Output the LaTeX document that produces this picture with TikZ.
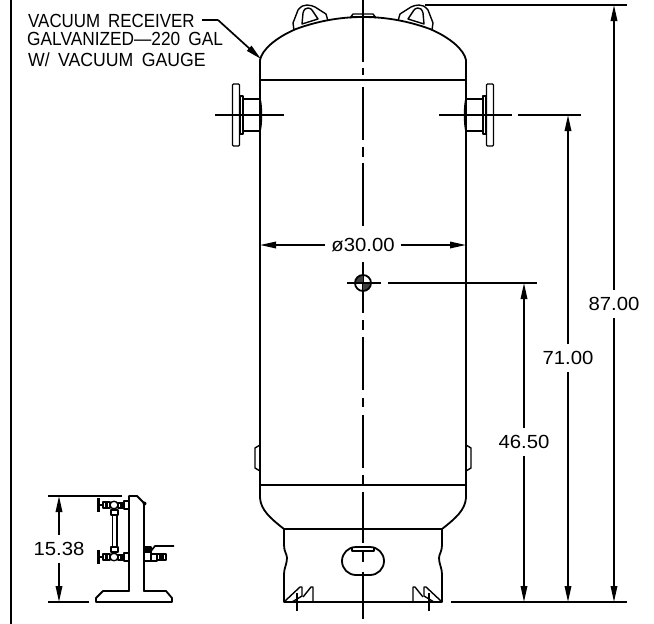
\documentclass[tikz,border=0pt]{standalone}
\usepackage{fontspec}
\setmainfont{Liberation Sans}
\usetikzlibrary{arrows.meta}
\tikzset{
  x=1pt,y=-1pt,
  obj/.style={draw=black,line width=1.8pt,line join=round,line cap=round},
  thin obj/.style={draw=black,line width=1.4pt,line join=round},
  cl/.style={draw=black,line width=1.9pt},
  dimline/.style={draw=black,line width=1.7pt},
  tip/.style={-{Triangle[length=16pt,width=6.5pt,sep=0pt]}},
  dimtext/.style={font=\fontsize{19}{19}\selectfont,inner xsep=6pt,inner ysep=7pt},
  note/.style={font=\fontsize{19}{19}\selectfont,inner sep=0pt,anchor=base west},
}
\newcommand{\wide}[1]{\scalebox{1.07}[1]{#1}}
\newcommand{\cond}[2]{\scalebox{#1}[1]{#2}}
\begin{document}
\begin{tikzpicture}
\useasboundingbox[fill=white] (0,0) rectangle (654,624);
% frame bar
\draw[line width=2pt] (11,0) -- (11,624);

% vessel
\draw[obj] (260,485) -- (260,68) -- (260,60) .. controls (262,50) and (275,38) .. (296,29)
  .. controls (318,21) and (340,17) .. (363,17) .. controls (386,17) and (408,21) .. (430,29)
  .. controls (451,38) and (464,50) .. (466,60) -- (466,68) -- (466,485);
\draw[obj] (260,80) -- (466,80);
\draw[obj] (260,485) -- (466,485);
\draw[obj] (260,485) -- (260,498) .. controls (261,510) and (270,518) .. (284,529) -- (442,529)
  .. controls (456,518) and (465,510) .. (466,498) -- (466,485);
% skirt
\draw[obj] (284,529) -- (284,545) .. controls (284,552) and (287,554) .. (287,558)
  .. controls (287,564) and (284,568) .. (284,574) -- (284,602) -- (442,602) -- (442,574)
  .. controls (442,568) and (439,564) .. (439,558) .. controls (439,554) and (442,552) .. (442,545) -- (442,529);
% opening
\draw[obj] (356,547) -- (370,547) arc[start angle=-90,end angle=90,radius=14] -- (356,575) arc[start angle=90,end angle=270,radius=14] -- cycle;
\draw[thin obj] (352,547) -- (352,551) -- (374,551) -- (374,547);
% feet
\foreach \m in {1,-1}{
  \begin{scope}[xshift={(\m==1 ? 0 : 726)*1pt},xscale=\m]
    \draw[thin obj] (285,601) -- (300,587) -- (302,587) -- (302,596) -- (292,602);
    \draw[thin obj] (303,597) -- (311,587) -- (313,587) -- (313,602);
    \draw[thin obj] (297,593) -- (297,611);
    % pad
    \draw[thin obj] (260,445) -- (255,448) -- (255,468) -- (260,471);
    % lug
    \draw[thin obj] (294,30) -- (293,23) -- (298,10) .. controls (301,6) and (304,5) .. (307,5) .. controls (310,5) and (313,6) .. (315,7)
      -- (326,14) -- (328,21);
    \draw[thin obj] (302,24) -- (303,13) .. controls (304,9) and (306,8) .. (308,8) .. controls (310,8) and (311,9) .. (312,10) -- (318,19) -- cycle;
    % nozzle
    \draw[thin obj] (260,99) .. controls (262,105) and (262,125) .. (260,131);
    \draw[thin obj] (260,99) -- (243,99) -- (243,131) -- (260,131);
    \draw[thin obj] (243,96) -- (240,96) -- (240,134) -- (243,134) -- cycle;
    \draw[thin obj,rounded corners=1pt] (232.5,84) rectangle (239.5,146);
  \end{scope}
}
% top fitting
\draw[thin obj] (350,18) -- (353,14) -- (373,14) -- (376,18);
\draw[thin obj] (352,17) -- (374,17);

% centre line
\foreach \a/\b in {0/62,68/75,87/140,147/157,163/226,262/313,320/330,337/390,398/407,415/468,475/484,492/543,552/562,572/619}{
  \draw[cl] (363,\a) -- (363,\b);
}
% port
\fill[black!75] (363,283) -- (355,283) arc[start angle=180,end angle=270,radius=8] -- cycle;
\fill[black!75] (363,283) -- (371,283) arc[start angle=0,end angle=90,radius=8] -- cycle;
\draw[obj] (363,283) circle[radius=8];
\draw[cl] (347,283) -- (381,283);

% centre marks of nozzles and extension lines
\draw[dimline] (215,115) -- (284,115);
\draw[dimline] (439,115) -- (512,115);
\draw[dimline] (518,115) -- (581,115);
\draw[dimline] (388,283) -- (537,283);
\draw[dimline] (425,5) -- (627,5);
\draw[dimline] (451,602) -- (627,602);

% dimensions
\coordinate (top87) at (614,5);
\coordinate (top71) at (568,115);
\coordinate (top46) at (524,283);
\coordinate (bot87) at (614,602);
\coordinate (bot71) at (568,602);
\coordinate (bot46) at (524,602);
\node[dimtext] (t87) at (614,304) {\wide{87.00}};
\node[dimtext] (t71) at (568,358) {\wide{71.00}};
\node[dimtext] (t46) at (524,442) {\wide{46.50}};
\node[dimtext] (t30) at (363,245) {\wide{ø30.00}};
\node[dimtext] (t15) at (59,549) {\wide{15.38}};
\draw[dimline,tip] (t87.north) -- (top87);
\draw[dimline,tip] (t87.south) -- (bot87);
\draw[dimline,tip] (t71.north) -- (top71);
\draw[dimline,tip] (t71.south) -- (bot71);
\draw[dimline,tip] (t46.north) -- (top46);
\draw[dimline,tip] (t46.south) -- (bot46);
\coordinate (d30l) at (260,245);
\coordinate (d30r) at (466,245);
\draw[dimline,tip] (t30.west) -- (d30l);
\draw[dimline,tip] (t30.east) -- (d30r);

% note
\node[note] (n1) at (28,27) {\cond{0.89}{VACUUM\hspace{9pt}RECEIVER}};
\node[note] (n2) at (27,45) {\cond{0.91}{GALVANIZED—220\hspace{9pt}GAL}};
\node[note] (n3) at (28,66) {\cond{0.93}{W/\hspace{9pt}VACUUM\hspace{9pt}GAUGE}};
\coordinate (lead) at (218,20);
\coordinate (leadtip) at (261,59);
\draw[dimline] (202,20) -- (lead);
\draw[dimline,tip] (lead) -- (leadtip);

% gauge glass detail
\draw[dimline] (48,496) -- (122,496);
\draw[dimline] (48,602) -- (89,602);
\coordinate (top15) at (59,496);
\coordinate (bot15) at (59,602);
\draw[dimline,tip] (t15.north) -- (top15);
\draw[dimline,tip] (t15.south) -- (bot15);
\draw[obj] (129,591) -- (129,496) -- (137,496) -- (144,503) -- (144,591);
\fill (144.5,503.5) circle[radius=2];
\draw[obj] (129,591) -- (103,591) -- (96,598) -- (96,602) -- (172,602) -- (172,598) -- (166,591) -- (144,591);
\foreach \dy in {0,52}{
  \begin{scope}[yshift={-\dy*1pt}]
    \draw[line width=2.4pt] (98.5,498) -- (98.5,512);
    \draw[thin obj] (99,505) -- (104,505);
    \draw[thin obj,fill=white] (103,502) rectangle (110,508);
    \fill (105,503) rectangle (108,507);
    \draw[thin obj,fill=white] (110,505) .. controls (110,500) and (118,500) .. (118,505) .. controls (118,510) and (110,510) .. (110,505);
    \draw[thin obj,fill=white] (118,503) rectangle (123,508);
    \fill (120,503) rectangle (124,508);
    \draw[thin obj,fill=white] (124,501) rectangle (129,509);
  \end{scope}
}
\draw[thin obj] (111,510) rectangle (118,515);
\draw[thin obj] (112.5,515) -- (112.5,547);
\draw[thin obj] (117,515) -- (117,547);
\draw[thin obj] (111,547) rectangle (118,552);
% ball valve
\draw[thin obj] (144,547) -- (151,547) -- (151,561) -- (144,561);
\fill (144,547) rectangle (150,553);
\draw[dimline] (151,551) -- (155,546) -- (174,546);
\draw[thin obj] (151,554) rectangle (157,561);
\draw[thin obj] (157,554) rectangle (166,560);
\fill (159,555) rectangle (164,559);
\end{tikzpicture}
\end{document}
